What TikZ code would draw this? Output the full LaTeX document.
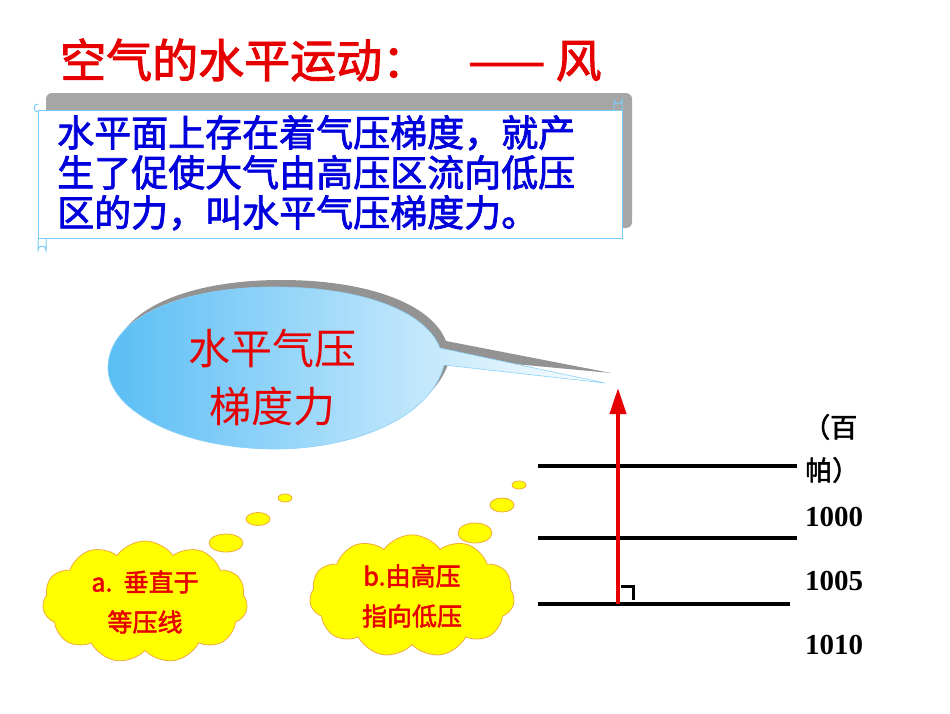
\documentclass[tikz,border=0pt]{standalone}
\usepackage{fontspec}
\setmainfont{Noto Sans CJK SC}
\newfontfamily\numfont{Liberation Serif}
\newfontfamily\cjkb{Noto Sans CJK SC}[FakeBold=2]
\usetikzlibrary{shapes.symbols,shapes.geometric,arrows.meta}
\definecolor{tred}{RGB}{230,0,0}
\definecolor{tblue}{RGB}{0,0,220}
\definecolor{cloudy}{RGB}{255,255,0}
\definecolor{cloudo}{RGB}{240,170,60}
\definecolor{skyb}{RGB}{90,190,245}
\tikzset{
 bub/.style={ellipse,fill=cloudy,draw=cloudo,line width=0.8pt,inner sep=0pt},
 cld/.style={cloud,cloud puffs=11,cloud puff arc=110,aspect=1.9,fill=cloudy,draw=cloudo,line width=0.8pt,minimum width=205pt,minimum height=112pt,align=center,text=tred,font=\fontsize{25}{40}\selectfont\cjkb},
 iso/.style={line width=3.5pt,black},
 lab/.style={anchor=west,font=\fontsize{29}{30}\selectfont\bfseries\numfont,inner sep=0pt},
 ulab/.style={anchor=west,font=\fontsize{27}{28}\selectfont\cjkb,inner sep=0pt}
}
\begin{document}
\begin{tikzpicture}[x=1pt,y=-1pt]
\useasboundingbox (0,0) rectangle (950,713);
% title
\node[anchor=west,text=tred,font=\fontsize{46}{50}\selectfont\cjkb,inner sep=0pt] (title) at (60,60) {空气的水平运动：\hspace{40pt}—— 风};
% scroll
\fill[gray!70,rounded corners=6pt] (46,93) rectangle (632,228);
\draw[skyb!80,fill=white,line width=1pt] (38,110) rectangle (622,238);
\draw[skyb!80,line width=1pt] (38,112) arc (90:270:4);
\draw[skyb!80,line width=1pt] (38,238) -- (38,250) arc(180:360:4) -- (46,238);
\draw[skyb!80,line width=1pt] (614,110) -- (614,100) arc(180:0:4) -- (622,110);
\node[anchor=north west,text=tblue,align=left,font=\fontsize{37}{40}\selectfont\cjkb,inner sep=0pt] (desc) at (57,115) {水平面上存在着气压梯度，就产\\生了促使大气由高压区流向低压\\区的力，叫水平气压梯度力。};
% speech bubble shadow
\fill[gray!85,shift={(6,-7)}]
  (444,365) .. controls (430,420) and (350,449) .. (275,449)
  .. controls (180,449) and (108,410) .. (108,368)
  .. controls (108,318) and (180,287) .. (275,287)
  .. controls (360,287) and (425,310) .. (440,348) -- (605,380) -- cycle;
\shade[left color=skyb,right color=white,draw=skyb!70,line width=0.6pt]
  (444,365) .. controls (430,420) and (350,449) .. (275,449)
  .. controls (180,449) and (108,410) .. (108,368)
  .. controls (108,318) and (180,287) .. (275,287)
  .. controls (360,287) and (425,310) .. (440,348) -- (605,383) -- cycle;
\node[text=tred,align=center,font=\fontsize{42}{58}\selectfont,inner sep=0pt] (bubtext) at (272,378) {水平气压\\梯度力};
% isobars
\draw[iso] (538,466) -- (797,466);
\draw[iso] (538,538) -- (797,538);
\draw[iso] (538,604) -- (790,604);
\coordinate (abase) at (618,604);
\coordinate (atip) at (618,388);
\draw[tred,line width=4pt,-{Triangle[width=16pt,length=26pt]}] (abase) -- (atip);
\draw[black,line width=3pt] (621,586) -- (633,586) -- (633,600);
\node[ulab] (unit1) at (803,427) {（百};
\node[ulab] (unit2) at (805,470) {帕）};
\node[lab] (p1000) at (805,517) {1000};
\node[lab] (p1005) at (805,581) {1005};
\node[lab] (p1010) at (805,645) {1010};
% clouds
\node[cld] (ca) at (145,602) {a.~~垂直于\\等压线};
\node[cld] (cb) at (412,596) {b.由高压\\指向低压};
\node[bub,minimum width=34pt,minimum height=18pt] (b1) at (226,543) {};
\node[bub,minimum width=24pt,minimum height=13pt] (b2) at (258,519) {};
\node[bub,minimum width=14pt,minimum height=8pt] (b3) at (285,498) {};
\node[bub,minimum width=34pt,minimum height=20pt] (b4) at (475,533) {};
\node[bub,minimum width=24pt,minimum height=14pt] (b5) at (502,505) {};
\node[bub,minimum width=14pt,minimum height=8pt] (b6) at (519,485) {};
\end{tikzpicture}
\end{document}
